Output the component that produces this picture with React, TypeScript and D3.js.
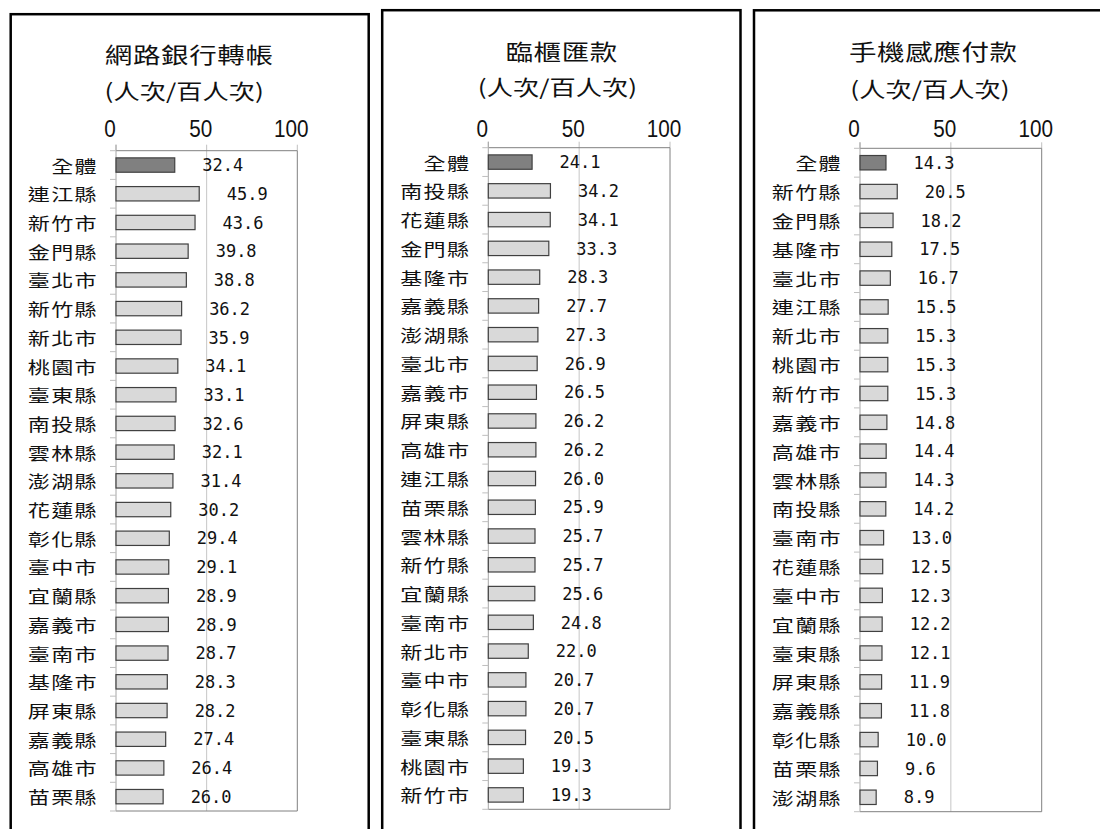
import React from 'react';
import * as d3 from 'd3';

const xTicks = [0, 50, 100];
const unitLabel = '(人次/百人次)';

const netBankTitle = '網路銀行轉帳';
const netBankCategories = [
  '全體', '連江縣', '新竹市', '金門縣', '臺北市', '新竹縣', '新北市', '桃園市',
  '臺東縣', '南投縣', '雲林縣', '澎湖縣', '花蓮縣', '彰化縣', '臺中市', '宜蘭縣',
  '嘉義市', '臺南市', '基隆市', '屏東縣', '嘉義縣', '高雄市', '苗栗縣',
];
const netBankValues = [
  32.4, 45.9, 43.6, 39.8, 38.8, 36.2, 35.9, 34.1, 33.1, 32.6, 32.1, 31.4,
  30.2, 29.4, 29.1, 28.9, 28.9, 28.7, 28.3, 28.2, 27.4, 26.4, 26.0,
];

const counterTitle = '臨櫃匯款';
const counterCategories = [
  '全體', '南投縣', '花蓮縣', '金門縣', '基隆市', '嘉義縣', '澎湖縣', '臺北市',
  '嘉義市', '屏東縣', '高雄市', '連江縣', '苗栗縣', '雲林縣', '新竹縣', '宜蘭縣',
  '臺南市', '新北市', '臺中市', '彰化縣', '臺東縣', '桃園市', '新竹市',
];
const counterValues = [
  24.1, 34.2, 34.1, 33.3, 28.3, 27.7, 27.3, 26.9, 26.5, 26.2, 26.2, 26.0,
  25.9, 25.7, 25.7, 25.6, 24.8, 22.0, 20.7, 20.7, 20.5, 19.3, 19.3,
];

const mobileTitle = '手機感應付款';
const mobileCategories = [
  '全體', '新竹縣', '金門縣', '基隆市', '臺北市', '連江縣', '新北市', '桃園市',
  '新竹市', '嘉義市', '高雄市', '雲林縣', '南投縣', '臺南市', '花蓮縣', '臺中市',
  '宜蘭縣', '臺東縣', '屏東縣', '嘉義縣', '彰化縣', '苗栗縣', '澎湖縣',
];
const mobileValues = [
  14.3, 20.5, 18.2, 17.5, 16.7, 15.5, 15.3, 15.3, 15.3, 14.8, 14.4, 14.3,
  14.2, 13.0, 12.5, 12.3, 12.2, 12.1, 11.9, 11.8, 10.0, 9.6, 8.9,
];

const CJK = '"Noto Sans CJK TC", "Noto Sans CJK SC", sans-serif';

interface PanelProps {
  title: string;
  categories: string[];
  values: number[];
  box: { left: number; top: number; right: number };
  plot: { x0: number; x1: number; top: number; bottom: number };
  titleX: number;
  titleY: number;
  subX: number;
  subY: number;
}

const Panel: React.FC<PanelProps> = ({
  title, categories, values, box, plot, titleX, titleY, subX, subY,
}) => {
  const x = d3.scaleLinear().domain([0, 100]).range([plot.x0, plot.x1]);
  const y = d3
    .scaleBand<string>()
    .domain(categories)
    .range([plot.top, plot.bottom])
    .paddingInner(0.5)
    .paddingOuter(0.25);
  const step = y.step();
  const bounds = d3.range(categories.length + 1).map((i) => plot.top + i * step);

  return (
    <g>
      {/* panel frame */}
      <rect
        x={box.left}
        y={box.top}
        width={box.right - box.left}
        height={840 - box.top}
        fill="none"
        stroke="#000"
        strokeWidth={2.5}
      />

      {/* titles */}
      <text
        transform={`translate(${titleX},${titleY}) scale(1.25,1)`}
        textAnchor="middle"
        fontFamily={CJK}
        fontSize={22}
        letterSpacing={0.5}
        fill="#111"
      >
        {title}
      </text>
      <text
        transform={`translate(${subX},${subY}) scale(1.25,1)`}
        textAnchor="middle"
        fontFamily={CJK}
        fontSize={21}
        fill="#111"
      >
        {unitLabel}
      </text>

      {/* x tick labels */}
      {xTicks.map((t) => (
        <text
          key={t}
          transform={`translate(${x(t) - 6},137) scale(0.9,1)`}
          textAnchor="middle"
          fontFamily='"Liberation Sans", Arial, sans-serif'
          fontSize={23}
          fill="#111"
        >
          {t}
        </text>
      ))}

      {/* gridline at 50 and tick marks above plot */}
      {xTicks.map((t) => (
        <line
          key={'tk' + t}
          x1={x(t)}
          x2={x(t)}
          y1={plot.top - 6}
          y2={plot.top}
          stroke="#c0c0c0"
          strokeWidth={1}
        />
      ))}
      {xTicks
        .filter((t) => t > 0 && t < 100)
        .map((t) => (
          <line
            key={'g' + t}
            x1={x(t)}
            x2={x(t)}
            y1={plot.top}
            y2={plot.bottom}
            stroke="#c6c6c6"
            strokeWidth={1}
          />
        ))}

      {/* plot frame */}
      <line x1={plot.x0} x2={plot.x1} y1={plot.top} y2={plot.top} stroke="#808080" />
      <line x1={plot.x1} x2={plot.x1} y1={plot.top} y2={plot.bottom} stroke="#808080" />
      <line x1={plot.x0} x2={plot.x1} y1={plot.bottom} y2={plot.bottom} stroke="#808080" />
      <line x1={plot.x0} x2={plot.x0} y1={plot.top - 6} y2={plot.bottom} stroke="#a6a6a6" />

      {/* category ticks */}
      {bounds.map((b, i) => (
        <line
          key={'ct' + i}
          x1={plot.x0 - 6}
          x2={plot.x0}
          y1={b}
          y2={b}
          stroke="#bfbfbf"
        />
      ))}

      {/* bars */}
      {categories.map((c, i) => (
        <rect
          key={'b' + c}
          x={x(0)}
          y={y(c)}
          width={x(values[i]) - x(0)}
          height={y.bandwidth()}
          fill={i === 0 ? '#808080' : '#d9d9d9'}
          stroke="#404040"
          strokeWidth={1.2}
        />
      ))}

      {/* category labels */}
      {categories.map((c) => (
        <text
          key={'c' + c}
          transform={`translate(${plot.x0 - 18},${(y(c) as number) + y.bandwidth() / 2 + 7.5}) scale(1.3,1)`}
          textAnchor="end"
          fontFamily={CJK}
          fontSize={17}
          letterSpacing={1}
          fill="#111"
        >
          {c}
        </text>
      ))}

      {/* value labels */}
      {categories.map((c, i) => (
        <text
          key={'v' + c}
          x={x(values[i]) + 27.5}
          y={(y(c) as number) + y.bandwidth() / 2 + 6.2}
          fontFamily='"DejaVu Sans Mono", monospace'
          fontSize={17}
          fill="#111"
        >
          {values[i].toFixed(1)}
        </text>
      ))}
    </g>
  );
};

const App: React.FC = () => {
  return (
    <svg
      width={1100}
      height={829}
      style={{ position: 'absolute', left: 0, top: 0, display: 'block', background: '#fff' }}
    >
      <rect width={1100} height={829} fill="#fff" />
      <Panel
        title={netBankTitle}
        categories={netBankCategories}
        values={netBankValues}
        box={{ left: 10.7, top: 14.2, right: 368.7 }}
        plot={{ x0: 116, x1: 297.3, top: 150.7, bottom: 811 }}
        titleX={189.2}
        titleY={63.4}
        subX={184.2}
        subY={98.5}
      />
      <Panel
        title={counterTitle}
        categories={counterCategories}
        values={counterValues}
        box={{ left: 382.2, top: 10.2, right: 740.5 }}
        plot={{ x0: 488.3, x1: 670, top: 147.7, bottom: 809.3 }}
        titleX={561.7}
        titleY={60}
        subX={557.5}
        subY={95.3}
      />
      <Panel
        title={mobileTitle}
        categories={mobileCategories}
        values={mobileValues}
        box={{ left: 754, top: 10.3, right: 1110 }}
        plot={{ x0: 860, x1: 1041.7, top: 148.3, bottom: 811.7 }}
        titleX={933.3}
        titleY={60}
        subX={930}
        subY={96.5}
      />
    </svg>
  );
};

export default App;
